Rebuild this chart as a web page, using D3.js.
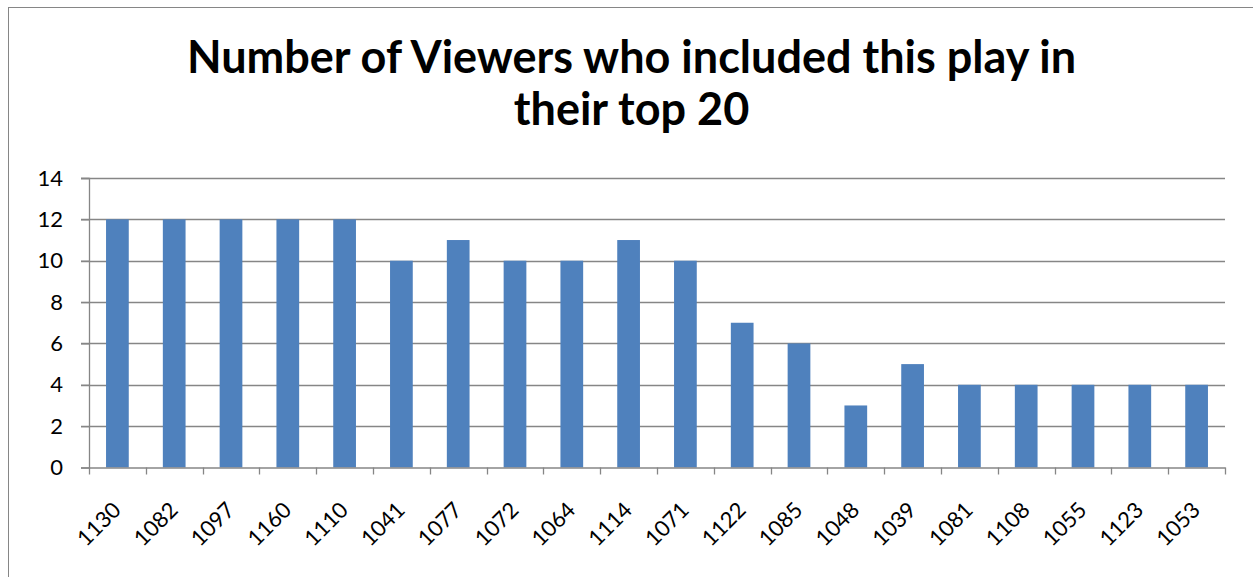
<!DOCTYPE html>
<html><head><meta charset="utf-8">
<script src="https://cdn.jsdelivr.net/npm/d3@7"></script>
<style>body{margin:0;background:#fff}svg{display:block}</style>
</head><body>
<svg id="c" width="1253" height="577"></svg>
<script>
const categories = ["1130","1082","1097","1160","1110","1041","1077","1072","1064","1114","1071","1122","1085","1048","1039","1081","1108","1055","1123","1053"];
const viewers = [12,12,12,12,12,10,11,10,10,11,10,7,6,3,5,4,4,4,4,4];
const yTicks = [0,2,4,6,8,10,12,14];
const titleLines = ["Number of Viewers who included this play in","their top 20"];

const svg = d3.select("#c");
const font = "Lato, 'Open Sans', sans-serif";
svg.append("rect").attr("x",8.5).attr("y",7.5).attr("width",1400).attr("height",800)
  .attr("fill","#fff").attr("stroke","#868686").attr("stroke-width",1);

const L=89, R=1225, T=178, B=467.5;
const x = d3.scaleBand().domain(categories).range([L,R]).paddingInner(0.6).paddingOuter(0.3);
const xb = d3.scaleBand().domain(categories).range([L,R]);
const y = d3.scaleLinear().domain([0,14]).range([B,T]);

// gridlines
svg.append("g").selectAll("line").data(yTicks.filter(d=>d>0)).join("line")
  .attr("x1",L-8).attr("x2",R).attr("y1",d=>Math.round(y(d))+0.5).attr("y2",d=>Math.round(y(d))+0.5)
  .attr("stroke","#868686").attr("stroke-width",1.3);

// bars
svg.append("g").selectAll("rect").data(viewers).join("rect")
  .attr("x",(d,i)=>x(categories[i])).attr("width",x.bandwidth())
  .attr("y",d=>y(d)).attr("height",d=>B-y(d)).attr("fill","#4F81BD");

// y axis
const ya = svg.append("g").attr("transform",`translate(${L},0)`)
  .call(d3.axisLeft(y).tickValues(yTicks).tickSize(8).tickPadding(18));
ya.select(".domain").attr("stroke","#868686").attr("stroke-width",1.3);
ya.selectAll(".tick line").attr("stroke","#868686").attr("stroke-width",1.3);
ya.selectAll("text").attr("font-family",font).attr("font-size",22).attr("fill","#000");

// x axis
const xa = svg.append("g").attr("transform",`translate(0,${B})`)
  .call(d3.axisBottom(xb).tickSize(0).tickFormat(d=>d));
xa.select(".domain").attr("stroke","#868686").attr("stroke-width",1.3);
xa.selectAll(".tick text").attr("font-family",font).attr("font-size",22).attr("fill","#000")
  .attr("text-anchor","end").attr("dy",0).attr("y",0)
  .attr("transform","translate(5,44) rotate(-45)");
svg.append("g").selectAll("line").data(d3.range(categories.length+1)).join("line")
  .attr("x1",i=>Math.round(L+i*xb.step())+0.5).attr("x2",i=>Math.round(L+i*xb.step())+0.5).attr("y1",B).attr("y2",B+7)
  .attr("stroke","#868686").attr("stroke-width",1.3);

// title
svg.append("g").selectAll("text").data(titleLines).join("text")
  .attr("x",631.5).attr("y",(d,i)=>73+i*52).attr("text-anchor","middle")
  .attr("font-family",font).attr("font-weight","bold").attr("font-size",45).attr("fill","#000")
  .text(d=>d);
</script>
</body></html>
